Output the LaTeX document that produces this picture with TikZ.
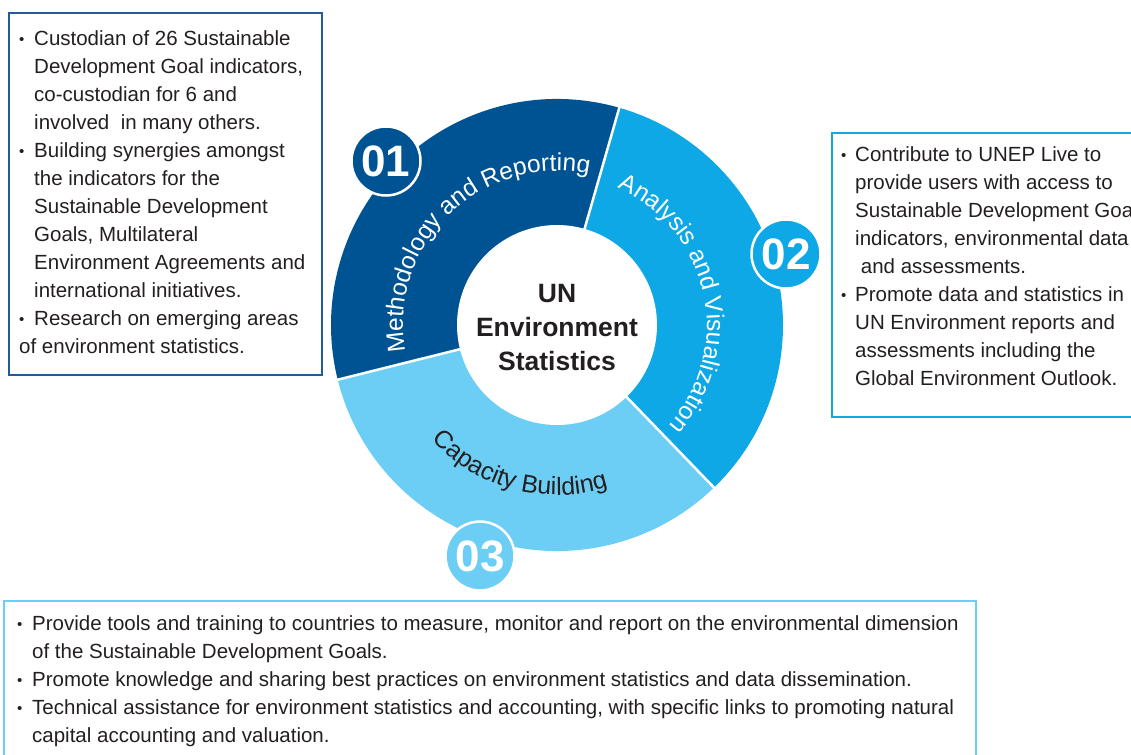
\documentclass[tikz,border=0pt]{standalone}
\usepackage{fontspec}
\setmainfont{Liberation Sans}
\usetikzlibrary{decorations.text,calc}
\definecolor{dkblue}{RGB}{0,83,146}
\definecolor{mdblue}{RGB}{14,168,230}
\definecolor{ltblue}{RGB}{108,206,245}
\definecolor{boxdk}{RGB}{31,92,153}
\definecolor{txt}{RGB}{35,31,32}
\newcommand{\bulsym}{\raisebox{1.2pt}{\fontsize{15}{15}\selectfont •}}
\newcommand{\bul}{\makebox[15pt][l]{\bulsym}}
\newcommand{\ind}{\hspace*{15pt}}
\newcommand{\rbul}{\makebox[14pt][l]{\bulsym}}
\newcommand{\rind}{\hspace*{14pt}}
\newcommand{\firststrut}{\rule{0pt}{20pt}}
\tikzset{
  bodytext/.style={inner sep=0pt, anchor=north west, align=left, text=txt,
    font=\fontsize{20.5}{28}\selectfont},
  badge/.style={circle, draw=white, line width=2.5pt, minimum size=69pt, inner sep=0pt,
    text=white, font=\fontsize{44}{44}\selectfont\bfseries},
  sep/.style={white, line width=2.5pt},
}
\newcommand{\curvefont}{\fontsize{24.5}{24.5}\selectfont}
\begin{document}
\begin{tikzpicture}[x=1pt,y=1pt]
\useasboundingbox (0,0) rectangle (1131,-754);
\coordinate (C) at (557,-325);
% ring segments
\fill[dkblue] (C) -- ($(C)+(74:226)$) arc[start angle=74,end angle=194,radius=226] -- cycle;
\fill[mdblue] (C) -- ($(C)+(-46:226)$) arc[start angle=-46,end angle=74,radius=226] -- cycle;
\fill[ltblue] (C) -- ($(C)+(194:226)$) arc[start angle=194,end angle=314,radius=226] -- cycle;
\coordinate (s1) at ($(C)+(74:228)$);
\coordinate (s2) at ($(C)+(194:228)$);
\coordinate (s3) at ($(C)+(314:228)$);
\draw[sep] (C) -- (s1);
\draw[sep] (C) -- (s2);
\draw[sep] (C) -- (s3);
\fill[white] (C) circle[radius=100];
% centre text
\node[align=center, text=txt, font=\fontsize{26.5}{34}\selectfont\bfseries] (centre) at (557,-328) {UN\\Environment\\Statistics};
% curved labels
\path[decorate, decoration={text along path, text align=center,
  text={|\curvefont\color{white}|Methodology and Reporting}}]
  ($(C)+(230:154)$) arc[start angle=230,end angle=38,radius=154];
\path[decorate, decoration={text along path, text align=center,
  text={|\curvefont\color{white}|Analysis and Visualization}}]
  ($(C)+(100:150)$) arc[start angle=100,end angle=-76,radius=150];
\path[decorate, decoration={text along path, text align=center,
  text={|\fontsize{25}{25}\selectfont\color{txt}|Capacity Building}}]
  ($(C)+(165:170)$) arc[start angle=165,end angle=345,radius=170];
% badges
\node[badge, fill=dkblue] (b1) at (386,-161) {01};
\node[badge, fill=mdblue] (b2) at (786,-254) {02};
\node[badge, fill=ltblue] (b3) at (480,-556) {03};
% left box
\draw[boxdk, line width=2pt] (9,-13) rectangle (322,-375);
\node[bodytext] (lefttext) at (19,-25) {\firststrut\bul Custodian of 26 Sustainable\\
\ind Development Goal indicators,\\
\ind co-custodian for 6 and\\
\ind involved\ \ in many others.\\
\bul Building synergies amongst\\
\ind the indicators for the\\
\ind Sustainable Development\\
\ind Goals, Multilateral\\
\ind Environment Agreements and\\
\ind international initiatives.\\
\bul Research on emerging areas\\
of environment statistics.};
% right box
\draw[mdblue, line width=2pt] (832,-133) rectangle (1140,-417);
\node[bodytext] (righttext) at (841,-141) {\firststrut\rbul Contribute to UNEP Live to\\
\rind provide users with access to\\
\rind Sustainable Development Goal\\
\rind indicators, environmental data\\
\rind\ and assessments.\\
\rbul Promote data and statistics in\\
\rind UN Environment reports and\\
\rind assessments including the\\
\rind Global Environment Outlook.};
% bottom box
\draw[ltblue, line width=2.5pt] (4,-601) rectangle (976,-770);
\node[bodytext] (bottomtext) at (17,-610) {\firststrut\bul Provide tools and training to countries to measure, monitor and report on the environmental dimension\\
\ind of the Sustainable Development Goals.\\
\bul Promote knowledge and sharing best practices on environment statistics and data dissemination.\\
\bul Technical assistance for environment statistics and accounting, with specific links to promoting natural\\
\ind capital accounting and valuation.};
\end{tikzpicture}
\end{document}
